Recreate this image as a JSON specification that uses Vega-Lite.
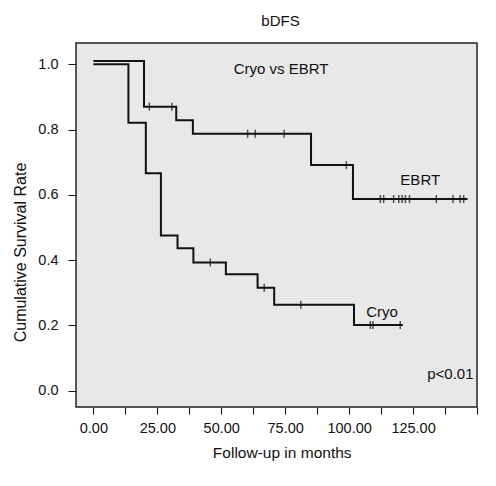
{
  "$schema": "https://vega.github.io/schema/vega-lite/v6.json",
  "width": 401,
  "height": 364,
  "autosize": {"type": "none"},
  "padding": {"left": 76, "top": 43, "right": 19, "bottom": 79},
  "background": "white",
  "title": {"text": "bDFS", "font": "Liberation Sans", "fontSize": 15, "fontWeight": "normal", "color": "#111", "anchor": "middle", "frame": "group", "offset": 14, "dx": 4},
  "config": {
    "font": "Liberation Sans",
    "view": {"fill": "#e8e8e8", "stroke": "#222", "strokeWidth": 1.5}
  },
  "datasets": {
    "curves": [
      {"group": "EBRT", "t": 0, "s": 1.01},
      {"group": "EBRT", "t": 19.8, "s": 0.87},
      {"group": "EBRT", "t": 32.4, "s": 0.828},
      {"group": "EBRT", "t": 38.9, "s": 0.787},
      {"group": "EBRT", "t": 85.1, "s": 0.691},
      {"group": "EBRT", "t": 101.5, "s": 0.587},
      {"group": "EBRT", "t": 146.3, "s": 0.587},
      {"group": "Cryo", "t": 0, "s": 1.0},
      {"group": "Cryo", "t": 13.7, "s": 0.821},
      {"group": "Cryo", "t": 20.5, "s": 0.666},
      {"group": "Cryo", "t": 26.4, "s": 0.475},
      {"group": "Cryo", "t": 32.9, "s": 0.436},
      {"group": "Cryo", "t": 39.1, "s": 0.393},
      {"group": "Cryo", "t": 51.8, "s": 0.357},
      {"group": "Cryo", "t": 64.2, "s": 0.315},
      {"group": "Cryo", "t": 70.7, "s": 0.263},
      {"group": "Cryo", "t": 101.9, "s": 0.201},
      {"group": "Cryo", "t": 121.0, "s": 0.201}
    ],
    "censors": [
      {"group": "EBRT", "t": 21.9, "s": 0.87},
      {"group": "EBRT", "t": 30.7, "s": 0.87},
      {"group": "EBRT", "t": 60.3, "s": 0.787},
      {"group": "EBRT", "t": 63.3, "s": 0.787},
      {"group": "EBRT", "t": 74.6, "s": 0.787},
      {"group": "EBRT", "t": 98.9, "s": 0.691},
      {"group": "EBRT", "t": 112.2, "s": 0.587},
      {"group": "EBRT", "t": 113.5, "s": 0.587},
      {"group": "EBRT", "t": 117.4, "s": 0.587},
      {"group": "EBRT", "t": 119.4, "s": 0.587},
      {"group": "EBRT", "t": 120.7, "s": 0.587},
      {"group": "EBRT", "t": 122.0, "s": 0.587},
      {"group": "EBRT", "t": 123.6, "s": 0.587},
      {"group": "EBRT", "t": 134.1, "s": 0.587},
      {"group": "EBRT", "t": 140.6, "s": 0.587},
      {"group": "EBRT", "t": 143.4, "s": 0.587},
      {"group": "EBRT", "t": 144.8, "s": 0.587},
      {"group": "Cryo", "t": 45.7, "s": 0.393},
      {"group": "Cryo", "t": 66.8, "s": 0.315},
      {"group": "Cryo", "t": 81.1, "s": 0.263},
      {"group": "Cryo", "t": 108.3, "s": 0.201},
      {"group": "Cryo", "t": 109.3, "s": 0.201},
      {"group": "Cryo", "t": 120.0, "s": 0.201}
    ],
    "labels": [
      {"label": "Cryo vs EBRT", "t": 73.4, "s": 0.986},
      {"label": "EBRT", "t": 127.8, "s": 0.644},
      {"label": "Cryo", "t": 112.9, "s": 0.242},
      {"label": "p<0.01", "t": 139.6, "s": 0.051}
    ]
  },
  "encoding": {
    "x": {
      "field": "t", "type": "quantitative",
      "scale": {"domain": [-6.8, 150], "nice": false, "zero": false},
      "axis": {
        "title": "Follow-up in months",
        "values": [0, 12.5, 25, 37.5, 50, 62.5, 75, 87.5, 100, 112.5, 125, 137.5, 150],
        "labelExpr": "datum.value % 25 == 0 && datum.value < 150 ? format(datum.value, '.2f') : ''",
        "domain": false, "grid": false,
        "tickSize": 7, "tickColor": "#111", "tickWidth": 1,
        "labelFontSize": 14.5, "labelColor": "#111", "labelPadding": 7, "labelFlush": false, "labelOverlap": false,
        "titleFontSize": 15.5, "titleFontWeight": "normal", "titleColor": "#111",
        "titleX": 205.7, "titleY": 50.3, "titleBaseline": "alphabetic", "titleAlign": "center"
      }
    },
    "y": {
      "field": "s", "type": "quantitative",
      "scale": {"domain": [-0.05, 1.065], "nice": false, "zero": false},
      "axis": {
        "title": "Cumulative Survival Rate",
        "values": [0, 0.2, 0.4, 0.6, 0.8, 1.0],
        "format": ".1f",
        "domain": false, "grid": false,
        "tickSize": 8, "tickColor": "#111", "tickWidth": 1,
        "labelFontSize": 14.5, "labelColor": "#111", "labelPadding": 10, "labelFlush": false, "labelOverlap": false,
        "titleFontSize": 16, "titleFontWeight": "normal", "titleColor": "#111",
        "titleX": -51, "titleY": 209, "titleBaseline": "alphabetic", "titleAlign": "center", "titleAngle": -90
      }
    }
  },
  "layer": [
    {
      "data": {"name": "curves"},
      "mark": {"type": "line", "interpolate": "step-after", "color": "#111", "strokeWidth": 2},
      "encoding": {"detail": {"field": "group"}}
    },
    {
      "data": {"name": "censors"},
      "mark": {"type": "tick", "orient": "vertical", "color": "#111", "size": 8, "thickness": 1.5}
    },
    {
      "data": {"name": "labels"},
      "mark": {"type": "text", "fontSize": 15, "align": "center", "baseline": "middle", "color": "#111"},
      "encoding": {"text": {"field": "label"}}
    }
  ]
}
